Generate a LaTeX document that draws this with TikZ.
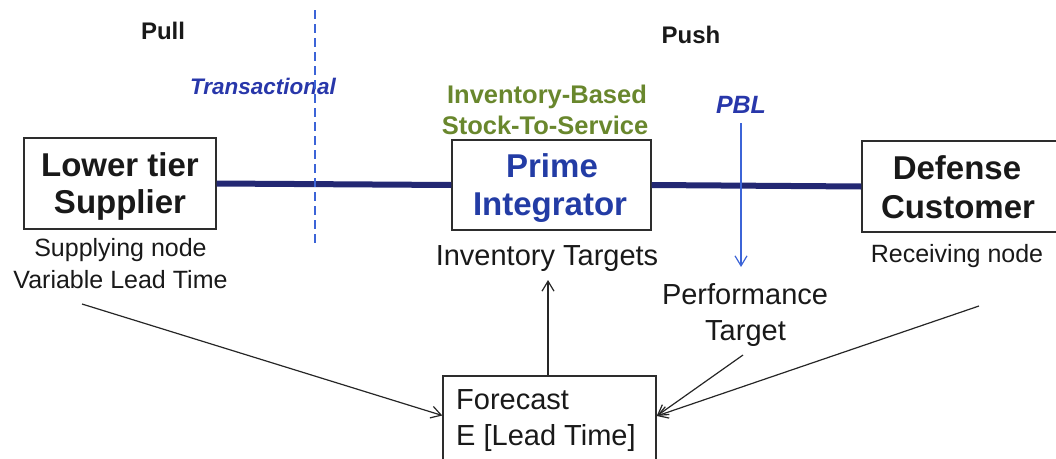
\documentclass[tikz,border=0pt]{standalone}
\usepackage{fontspec}
\setmainfont{Liberation Sans}
\usetikzlibrary{arrows.meta,calc}
\definecolor{navy}{RGB}{35,40,115}
\definecolor{tblue}{RGB}{40,55,170}
\definecolor{dblue}{RGB}{60,100,215}
\definecolor{olivegr}{RGB}{105,135,45}
\definecolor{pblue}{RGB}{35,60,165}
\definecolor{boxgray}{RGB}{45,45,45}
\definecolor{ink}{RGB}{25,25,25}
\begin{document}
\begin{tikzpicture}[x=1pt,y=-1pt,
  box/.style={draw=boxgray,line width=1.4pt,inner sep=0pt,rectangle},
  txt/.style={inner sep=0pt,anchor=base,text=ink},
  big/.style={txt,font=\fontsize{33}{38}\selectfont\bfseries},
  small/.style={txt,font=\fontsize{25}{30}\selectfont},
  mid/.style={txt,font=\fontsize{29}{34}\selectfont},
  arr/.style={line width=1.2pt,draw=black!85,-{Straight Barb[length=10pt,width=12pt]}},
  barr/.style={line width=1.2pt,draw=dblue,-{Straight Barb[length=10pt,width=12pt]}},
  link/.style={line width=6pt,draw=navy}
]
\useasboundingbox (0,0) rectangle (1056,458);

% boxes
\node[box,minimum width=192pt,minimum height=91pt] (lts) at (120,183.5) {};
\node[box,minimum width=199pt,minimum height=90pt] (pi) at (551.5,185) {};
\node[box,minimum width=200pt,minimum height=91pt] (dc) at (962,186.5) {};
\node[box,minimum width=213pt,minimum height=99pt] (fc) at (549.5,425.5) {};

% links
\draw[link] (lts.east) -- (pi.west);
\draw[link] (pi.east) -- (dc.west);

% box texts
\node[big] (lts1) at (120,176) {Lower tier};
\node[big] (lts2) at (120,213) {Supplier};
\node[big,text=pblue] (pi1) at (552,177) {Prime};
\node[big,text=pblue] (pi2) at (550,215) {Integrator};
\node[big] (dc1) at (957,179) {Defense};
\node[big] (dc2) at (958,218) {Customer};
\node[mid,anchor=base west] (fc1) at (456,409) {Forecast};
\node[mid,anchor=base west] (fc2) at (456,445) {E [Lead Time]};

% headings
\node[txt,font=\fontsize{24}{28}\selectfont\bfseries] (pull) at (163,39) {Pull};
\node[txt,font=\fontsize{24}{28}\selectfont\bfseries] (push) at (691,43) {Push};
\node[txt,font=\fontsize{22.5}{27}\selectfont\bfseries\itshape,text=tblue] (trans) at (263,94) {Transactional};
\node[txt,font=\fontsize{25.5}{30}\selectfont\bfseries,text=olivegr] (ib1) at (547,103) {Inventory-Based};
\node[txt,font=\fontsize{25.5}{30}\selectfont\bfseries,text=olivegr] (ib2) at (545,134) {Stock-To-Service};
\node[txt,font=\fontsize{25}{30}\selectfont\bfseries\itshape,text=tblue] (pbl) at (741,113) {PBL};

% captions
\node[small] (sn1) at (120.5,256) {Supplying node};
\node[small] (sn2) at (120.5,288) {Variable Lead Time};
\node[mid] (it) at (547,265) {Inventory Targets};
\node[small] (rn) at (957,262) {Receiving node};
\node[mid] (pt1) at (745,304) {Performance};
\node[mid] (pt2) at (745.5,340) {Target};

% dashed divider
\coordinate (dtop) at (315,10);
\coordinate (dbot) at (315,246);
\draw[dblue,line width=1.2pt,dash pattern=on 9pt off 5pt] (dtop) -- (dbot);

% PBL arrow
\draw[barr] ($(pbl.base)+(0,10)$) -- ($(pbl.base)+(0,154)$);

% forecast arrows
\coordinate (snout) at ($(sn2.base)+(-38.5,16)$);
\coordinate (ptout) at ($(pt2.base)+(-2.5,15)$);
\coordinate (rnout) at ($(rn.base)+(22,44)$);
\coordinate (fcL) at ($(fc.west)+(0,-10)$);
\coordinate (fcR) at ($(fc.east)+(0,-9.5)$);
\draw[arr] (snout) -- (fcL);
\draw[arr] (ptout) -- (fcR);
\draw[arr] (rnout) -- (fcR);
\draw[arr] ($(fc.north)+(-1.5,0)$) -- ($(it.base)+(1,15)$);
\end{tikzpicture}
\end{document}
